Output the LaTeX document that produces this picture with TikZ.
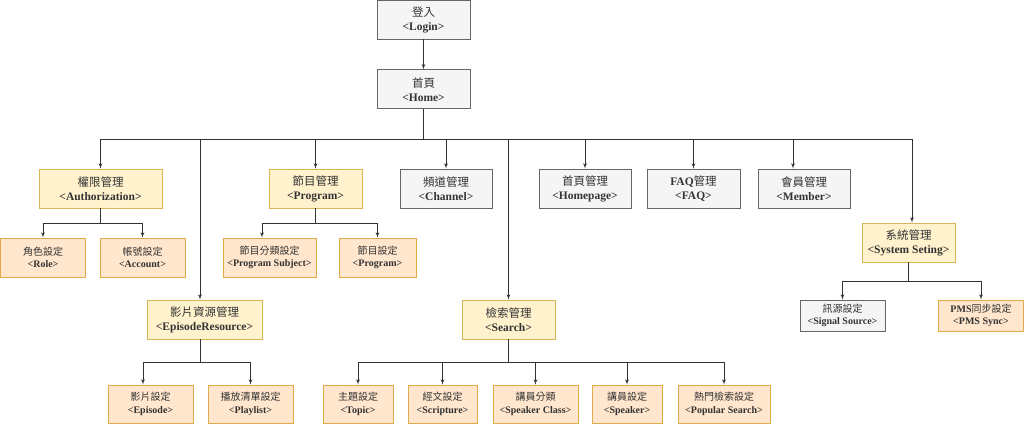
\documentclass[tikz,border=0pt]{standalone}
\usepackage{fontspec}
\setmainfont{Liberation Serif}
\newfontfamily\cjk{Noto Sans CJK TC}
\usepackage{xcolor}
\usetikzlibrary{arrows,positioning,calc}
\definecolor{grayfill}{HTML}{F5F5F5}
\definecolor{graydraw}{HTML}{666666}
\definecolor{yellowfill}{HTML}{FFF2CC}
\definecolor{yellowdraw}{HTML}{D6B656}
\definecolor{orangefill}{HTML}{FFE6CC}
\definecolor{orangedraw}{HTML}{E0AC48}
\newcommand{\twoline}[2]{{\cjk #1}\\\textbf{<#2>}}
\tikzset{
  module/.style={rectangle,draw,align=center,inner sep=0pt,text=black!80,line width=0.8pt},
  page/.style={module,fill=grayfill,draw=graydraw},
  group/.style={module,fill=yellowfill,draw=yellowdraw},
  leaf/.style={module,fill=orangefill,draw=orangedraw},
  big/.style={font=\fontsize{11.5}{14}\selectfont,minimum height=39pt},
  small/.style={font=\fontsize{10}{12.5}\selectfont,minimum height=39pt},
  link/.style={->,draw=black!80,line width=0.8pt},
  sitemap/.style={x=1pt,y=-1pt,>=latex'}
}

\begin{document}
\begin{tikzpicture}[sitemap]
      \useasboundingbox (0,0) rectangle (1024,424);
      % top
      \node[page,big,minimum width=93pt] (login) at (423.5,19.5) {\twoline{登入}{Login}};
      \node[page,big,minimum width=93pt,below=30pt of login] (home) {\twoline{首頁}{Home}};
      % first level
      \node[group,big,minimum width=123pt] (auth) at (100.5,188.5) {\twoline{權限管理}{Authorization}};
      \node[group,big,minimum width=93pt] (prog) at (315.5,188.5) {\twoline{節目管理}{Program}};
      \node[page,big,minimum width=92pt] (chan) at (446,188.5) {\twoline{頻道管理}{Channel}};
      \node[page,big,minimum width=92pt] (homep) at (585,188.5) {\twoline{首頁管理}{Homepage}};
      \node[page,big,minimum width=93pt] (faq) at (693.5,188.5) {\twoline{{\rmfamily\bfseries FAQ}管理}{FAQ}};
      \node[page,big,minimum width=92pt] (member) at (804,188.5) {\twoline{會員管理}{Member}};
      \node[group,big,minimum width=93pt] (system) at (908.5,242.5) {\twoline{系統管理}{System Seting}};
      \node[group,big,minimum width=115pt] (episoderes) at (204.5,319.5) {\twoline{影片資源管理}{EpisodeResource}};
      \node[group,big,minimum width=93pt] (search) at (508.5,319.5) {\twoline{檢索管理}{Search}};
      % second level
      \node[leaf,small,minimum width=85pt] (role) at (43,257.5) {\twoline{角色設定}{Role}};
      \node[leaf,small,minimum width=85pt] (account) at (142.5,257.5) {\twoline{帳號設定}{Account}};
      \node[leaf,small,minimum width=93pt] (progsub) at (269.5,257.5) {\twoline{節目分類設定}{Program Subject}};
      \node[leaf,small,minimum width=77pt] (progset) at (377.5,257.5) {\twoline{節目設定}{Program}};
      \node[page,small,minimum width=85pt,minimum height=31pt] (signal) at (842.5,315.5) {\twoline{訊源設定}{Signal Source}};
      \node[leaf,small,minimum width=85pt,minimum height=31pt] (pms) at (981,315.5) {\twoline{{\rmfamily\bfseries PMS}同步設定}{PMS Sync}};
      % third level
      \node[leaf,small,minimum width=85pt,minimum height=38pt] (episode) at (150.5,404) {\twoline{影片設定}{Episode}};
      \node[leaf,small,minimum width=85pt,minimum height=38pt] (playlist) at (250.5,404) {\twoline{播放清單設定}{Playlist}};
      \node[leaf,small,minimum width=70pt,minimum height=38pt] (topic) at (358,404) {\twoline{主題設定}{Topic}};
      \node[leaf,small,minimum width=69pt,minimum height=38pt] (scripture) at (442.5,404) {\twoline{經文設定}{Scripture}};
      \node[leaf,small,minimum width=85pt,minimum height=38pt] (spkclass) at (535.5,404) {\twoline{講員分類}{Speaker Class}};
      \node[leaf,small,minimum width=70pt,minimum height=38pt] (speaker) at (627,404) {\twoline{講員設定}{Speaker}};
      \node[leaf,small,minimum width=92pt,minimum height=38pt] (popular) at (724,404) {\twoline{熱門檢索設定}{Popular Search}};
      % connectors
      \coordinate (bus1) at (423.5,139);
      \draw[link] (login) -- (home);
      \foreach \c in {auth,prog,chan,homep,faq,search}
        \draw[link] (home.south) -- (home.south |- bus1) -| (\c.north);
      \draw[link] (home.south) -- (home.south |- bus1) -| ($(member.north)+(-11,0)$);
      \draw[link] (home.south) -- (home.south |- bus1) -| ($(episoderes.north)+(-4.5,0)$);
      \draw[link] (home.south) -- (home.south |- bus1) -| ($(system.north)+(3.5,0)$);
      \foreach \c in {role,account}
        \draw[link] (auth.south) -- ++(0,15) -| (\c.north);
      \draw[link] (prog.south) -- ++(0,15) -| ($(progsub.north)+(-7.5,0)$);
      \draw[link] (prog.south) -- ++(0,15) -| (progset.north);
      \draw[link] ($(episoderes.south)+(-4.5,0)$) -- ++(0,23) -| ($(episode.north)+(-7.5,0)$);
      \draw[link] ($(episoderes.south)+(-4.5,0)$) -- ++(0,23) -| (playlist.north);
      \foreach \c in {topic,scripture,spkclass,speaker,popular}
        \draw[link] (search.south) -- ++(0,23) -| (\c.north);
      \foreach \c in {signal,pms}
        \draw[link] (system.south) -- ++(0,19) -| (\c.north);
\end{tikzpicture}
\end{document}
